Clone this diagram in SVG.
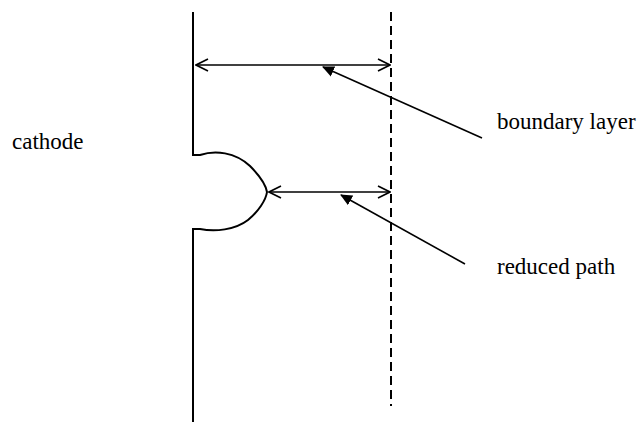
<svg xmlns="http://www.w3.org/2000/svg" width="642" height="428" viewBox="0 0 642 428">
<style>
.ln{stroke:#000;stroke-width:2;fill:none}
.thin{stroke:#000;stroke-width:1.6;fill:none}
.lbl{font-family:"Liberation Serif","Times New Roman",serif;font-size:23px;fill:#000}
</style>
<defs>
<marker id="open" viewBox="0 0 14 14" refX="13" refY="7" markerWidth="14" markerHeight="14" markerUnits="userSpaceOnUse" orient="auto-start-reverse">
<path d="M1,1 L13,7 L1,13" fill="none" stroke="#000" stroke-width="1.6"/>
</marker>
<marker id="solid" viewBox="0 0 12 12" refX="11" refY="6" markerWidth="12" markerHeight="12" markerUnits="userSpaceOnUse" orient="auto-start-reverse">
<path d="M0,0.5 L12,6 L0,11.5 Z" fill="#000"/>
</marker>
</defs>
<g id="cathode">
<path class="ln" d="M193,12 V155 H200 C215,150 235,152 250,166 C260,176 266,186 267,192 C266,200 258,212 248,220 C235,230 215,232 200,229 H193 V422"/>
<text class="lbl" x="12" y="149">cathode</text>
</g>
<g id="boundary">
<line x1="391" y1="12" x2="391" y2="406" stroke="#000" stroke-width="2" stroke-dasharray="9,5"/>
</g>
<g id="boundary-label"><text class="lbl" x="497" y="129">boundary layer</text></g>
<g id="reduced-label"><text class="lbl" x="497" y="274">reduced path</text></g>
<g id="connectors">
<line class="thin" x1="196" y1="65" x2="390" y2="65" marker-start="url(#open)" marker-end="url(#open)"/>
<line class="thin" x1="269" y1="192" x2="390" y2="192" marker-start="url(#open)" marker-end="url(#open)"/>
<line class="thin" x1="323" y1="67" x2="482" y2="138" marker-start="url(#solid)"/>
<line class="thin" x1="341" y1="195" x2="465" y2="264" marker-start="url(#solid)"/>
</g>
</svg>
